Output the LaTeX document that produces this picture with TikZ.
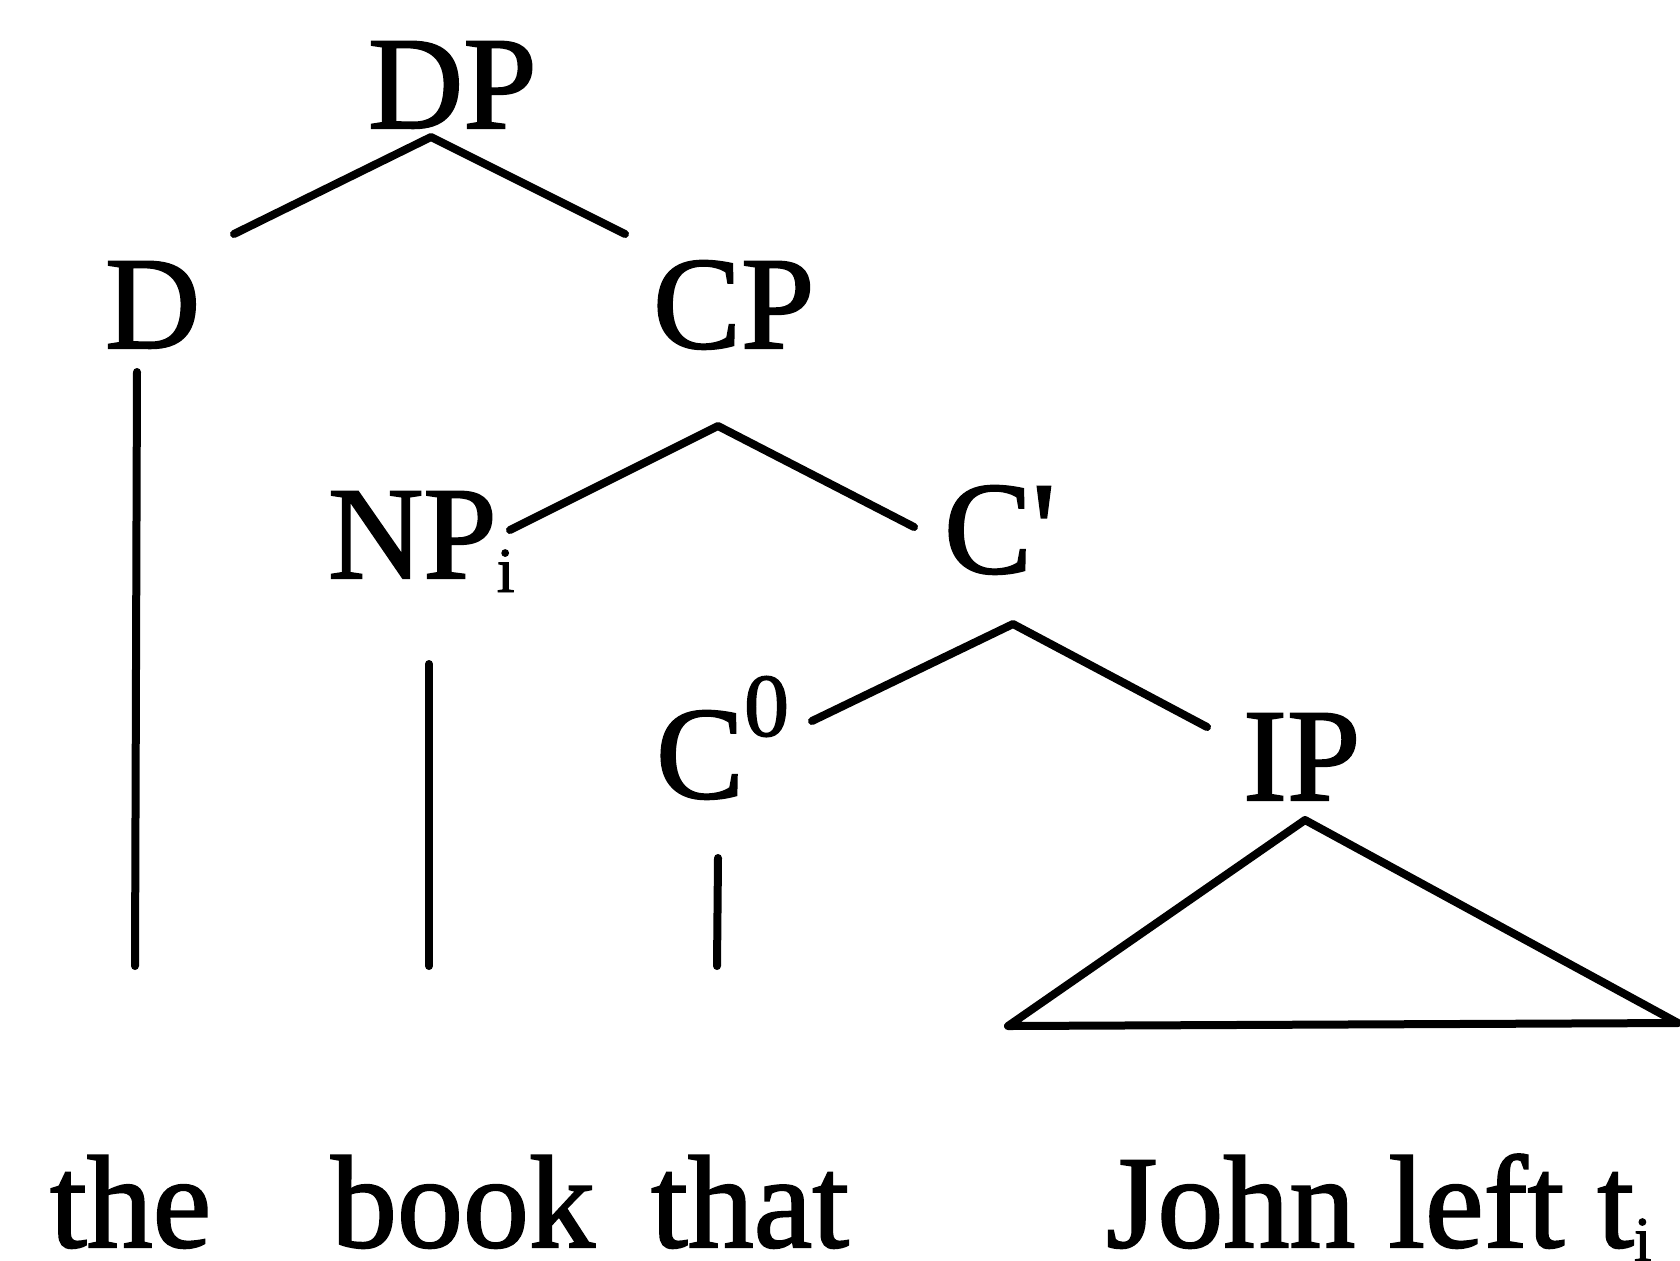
\documentclass[tikz,border=0pt]{standalone}
\usepackage{fontspec}
\newfontfamily\tr[FakeBold=1.5]{Liberation Serif}
\newcommand\mysub[1]{\raisebox{-7pt}{\fontsize{32}{32}\selectfont #1}}
\newcommand\mysup[1]{\raisebox{31pt}{\fontsize{45}{45}\selectfont #1}}
\begin{document}
\begin{tikzpicture}[x=0.5pt,y=-0.5pt,
  lbl/.style={anchor=base west,inner sep=0pt,outer sep=0pt,font=\tr\fontsize{66}{70}\selectfont},
  edge/.style={line width=4pt,line cap=round,line join=round}]
\useasboundingbox (0,0) rectangle (1680,1260);
% labels
\node[lbl] (DP) at (368,128) {DP};
\node[lbl] (D) at (105,348) {D};
\node[lbl] (CP) at (653,348) {CP};
\node[lbl] (NP) at (328,578) {NP\mysub{i}};
\node[lbl] (Cbar) at (944,573) {C'};
\node[lbl] (C0) at (656,798) {C\mysup{0}};
\node[lbl] (IP) at (1243,800) {IP};
\node[lbl] (the) at (50,1247) {the};
\node[lbl] (book) at (331,1247) {book};
\node[lbl] (that) at (651,1247) {that};
\node[lbl] (john) at (1106,1247) {John left t\mysub{i}};
% connector end points
\coordinate (DPt) at (431,137);
\coordinate (DPl) at (234,234);
\coordinate (DPr) at (625,234);
\coordinate (Dtop) at (137,372);
\coordinate (Dbot) at (135,966);
\coordinate (CPt) at (718,426);
\coordinate (CPl) at (510,530);
\coordinate (CPr) at (914,527);
\coordinate (NPtop) at (429,664);
\coordinate (NPbot) at (429,966);
\coordinate (Ct) at (1013,624);
\coordinate (Cl) at (812,721);
\coordinate (Cr) at (1207,727);
\coordinate (C0top) at (718,858);
\coordinate (C0bot) at (717,966);
\coordinate (IPt) at (1305,820);
\coordinate (IPl) at (1008,1026);
\coordinate (IPr) at (1678,1023);
% connectors
\draw[edge] (DPl) -- (DPt) -- (DPr);
\draw[edge] (Dtop) -- (Dbot);
\draw[edge] (CPl) -- (CPt) -- (CPr);
\draw[edge] (NPtop) -- (NPbot);
\draw[edge] (Cl) -- (Ct) -- (Cr);
\draw[edge] (C0top) -- (C0bot);
\draw[edge] (IPt) -- (IPl) -- (IPr) -- cycle;
\end{tikzpicture}
\end{document}
